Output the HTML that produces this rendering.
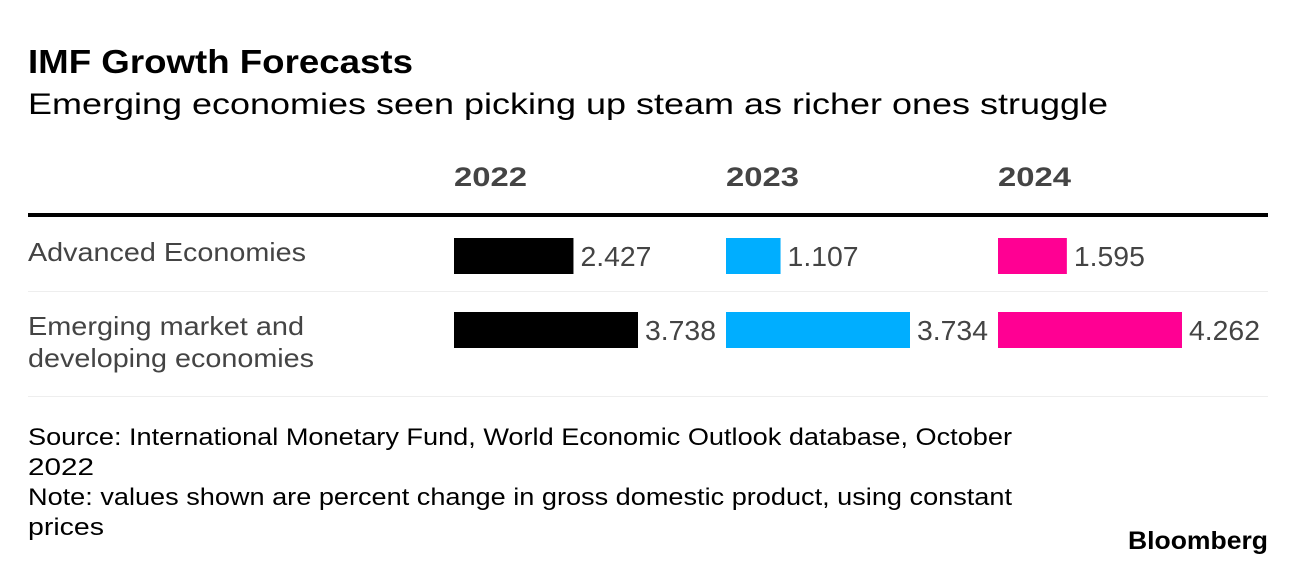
<!DOCTYPE html>
<html><head><meta charset="utf-8"><style>
body{margin:0;background:#fff;}
svg{display:block;font-family:"Liberation Sans",Arial,sans-serif;}
</style></head><body>
<svg width="1296" height="566" viewBox="0 0 1296 566">
<text x="28" y="73" font-size="33" font-weight="bold" fill="#000" textLength="385" lengthAdjust="spacingAndGlyphs">IMF Growth Forecasts</text>
<text x="28" y="114" font-size="30" fill="#000" textLength="1080" lengthAdjust="spacingAndGlyphs">Emerging economies seen picking up steam as richer ones struggle</text>
<g id="headers"></g>
<rect x="28" y="213" width="1240" height="4" fill="#000"/>
<rect x="28" y="291" width="1240" height="1" fill="#eee"/>
<rect x="28" y="396" width="1240" height="1" fill="#eee"/>
<g id="rows"></g>
<g font-size="24" fill="#000">
<text x="28" y="445" textLength="984" lengthAdjust="spacingAndGlyphs">Source: International Monetary Fund, World Economic Outlook database, October</text>
<text x="28" y="475" textLength="66" lengthAdjust="spacingAndGlyphs">2022</text>
<text x="28" y="505" textLength="984" lengthAdjust="spacingAndGlyphs">Note: values shown are percent change in gross domestic product, using constant</text>
<text x="28" y="535" textLength="76" lengthAdjust="spacingAndGlyphs">prices</text>
</g>
<text x="1268" y="549" text-anchor="end" font-size="25" font-weight="bold" fill="#000" textLength="140" lengthAdjust="spacingAndGlyphs">Bloomberg</text>
</svg>
<script>
const years = ["2022","2023","2024"];
const rowLabels = [["Advanced Economies"],["Emerging market and","developing economies"]];
const series2022 = [2.427, 3.738];
const series2023 = [1.107, 3.734];
const series2024 = [1.595, 4.262];
const valueLabels = [["2.427","3.738"],["1.107","3.734"],["1.595","4.262"]];
const colors = ["#000000","#00aeff","#ff0093"];
const NS="http://www.w3.org/2000/svg";
const colX=[454,726,998], rowY=[238,312], barH=36, maxW=184;
const labelW=[[278],[276,286]];
const hdr=document.getElementById('headers'), rows=document.getElementById('rows');
function mk(tag,attrs,parent){const e=document.createElementNS(NS,tag);for(const k in attrs)e.setAttribute(k,attrs[k]);parent.appendChild(e);return e;}
years.forEach((y,i)=>{
  const t=mk('text',{x:colX[i],y:186,'font-size':27,'font-weight':'bold',fill:'#444',textLength:73,lengthAdjust:'spacingAndGlyphs'},hdr);
  
  
  t.textContent=y;
});
rowLabels.forEach((lines,r)=>{
  lines.forEach((l,j)=>{
    const t=mk('text',{x:28,y:(r===0?261:335)+j*32,'font-size':26,fill:'#444',textLength:labelW[r][j],lengthAdjust:'spacingAndGlyphs'},rows);
    
    
    t.textContent=l;
  });
});
const all=[series2022,series2023,series2024];
all.forEach((s,c)=>{
  const mx=Math.max(...s);
  const sx=v=>v/mx*maxW;
  s.forEach((v,r)=>{
    const w=sx(v);
    const b=mk('rect',{x:colX[c],y:rowY[r],width:w,height:barH,fill:colors[c]},rows);
    
    
    const t=mk('text',{x:colX[c]+w+7,y:rowY[r]+28,'font-size':28,fill:'#444',textLength:71,lengthAdjust:'spacingAndGlyphs'},rows);
    
    
    t.textContent=valueLabels[c][r];
  });
});
</script>
</body></html>
